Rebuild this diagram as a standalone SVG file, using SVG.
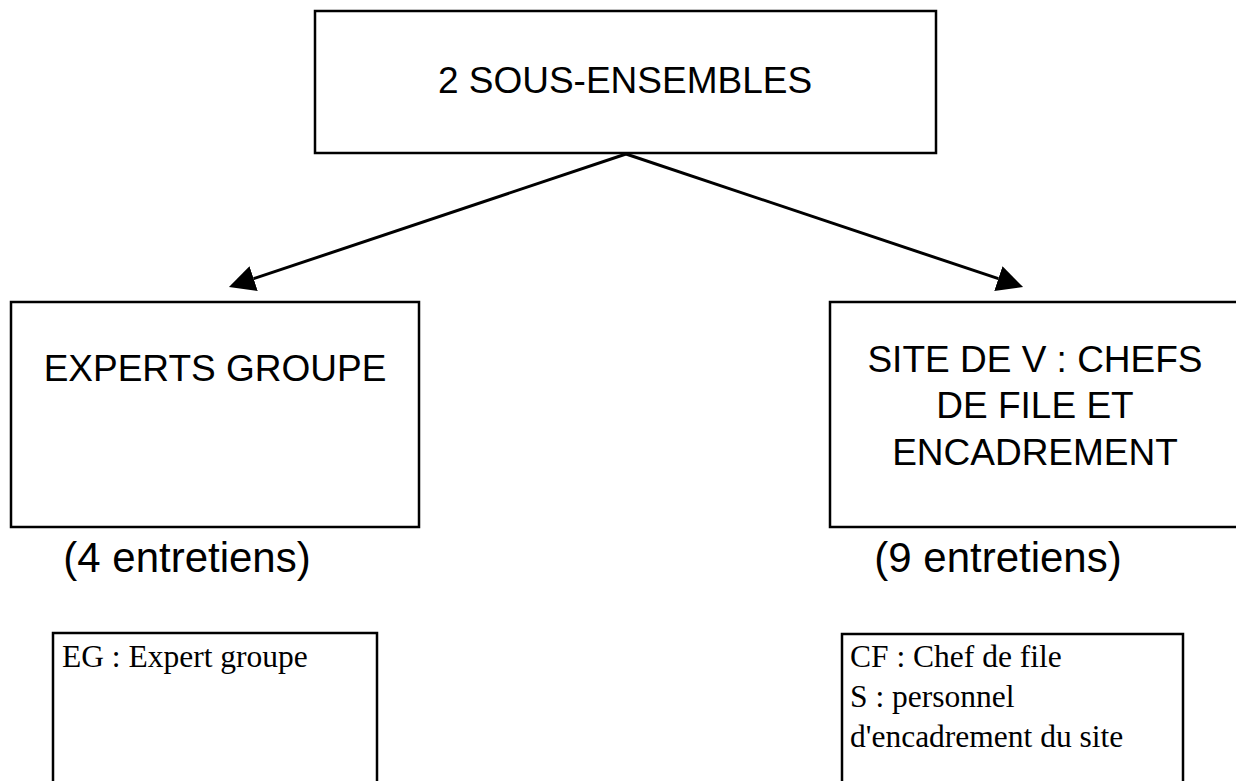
<svg xmlns="http://www.w3.org/2000/svg" width="1236" height="781" viewBox="0 0 1236 781">
<style>
.box{fill:#fff;stroke:#000;stroke-width:2.5}
.t{font-family:"Liberation Sans",Arial,sans-serif;font-size:37px;fill:#000}
.p{font-family:"Liberation Sans",Arial,sans-serif;font-size:42px;fill:#000}
.s{font-family:"Liberation Serif","Times New Roman",serif;font-size:31.5px;fill:#000}
.c{fill:none;stroke:#000;stroke-width:3}
</style>
<defs>
<marker id="ah" markerUnits="userSpaceOnUse" viewBox="0 0 26 26" refX="0" refY="13" markerWidth="26" markerHeight="26" orient="auto">
<path d="M0,0 L26,13 L0,26 z" fill="#000"/>
</marker>
</defs>
<rect width="1236" height="781" fill="#fff"/>
<g id="connectors">
<path class="c" d="M626,154 L253.6,278.7" marker-end="url(#ah)"/>
<path class="c" d="M626,154 L998.4,278.7" marker-end="url(#ah)"/>
</g>
<g id="node-top">
<rect class="box" x="315" y="11" width="621" height="142"/>
<text class="t" x="625" y="93" text-anchor="middle">2 SOUS-ENSEMBLES</text>
</g>
<g id="node-experts">
<rect class="box" x="11" y="302" width="408" height="225"/>
<text class="t" x="215" y="381" text-anchor="middle">EXPERTS GROUPE</text>
</g>
<g id="node-site">
<rect class="box" x="830" y="302" width="410" height="225"/>
<text class="t" text-anchor="middle"><tspan x="1035" y="372">SITE DE V : CHEFS</tspan><tspan x="1035" y="418">DE FILE ET</tspan><tspan x="1035" y="465">ENCADREMENT</tspan></text>
</g>
<g id="label-4">
<text class="p" x="187" y="572" text-anchor="middle">(4 entretiens)</text>
</g>
<g id="label-9">
<text class="p" x="998" y="572" text-anchor="middle">(9 entretiens)</text>
</g>
<g id="node-eg">
<rect class="box" x="53" y="633" width="324" height="160"/>
<text class="s" x="62" y="667">EG : Expert groupe</text>
</g>
<g id="node-cf">
<rect class="box" x="842" y="634" width="341" height="160"/>
<text class="s"><tspan x="850" y="667">CF : Chef de file</tspan><tspan x="850" y="707">S : personnel</tspan><tspan x="850" y="747">d'encadrement du site</tspan></text>
</g>
</svg>
